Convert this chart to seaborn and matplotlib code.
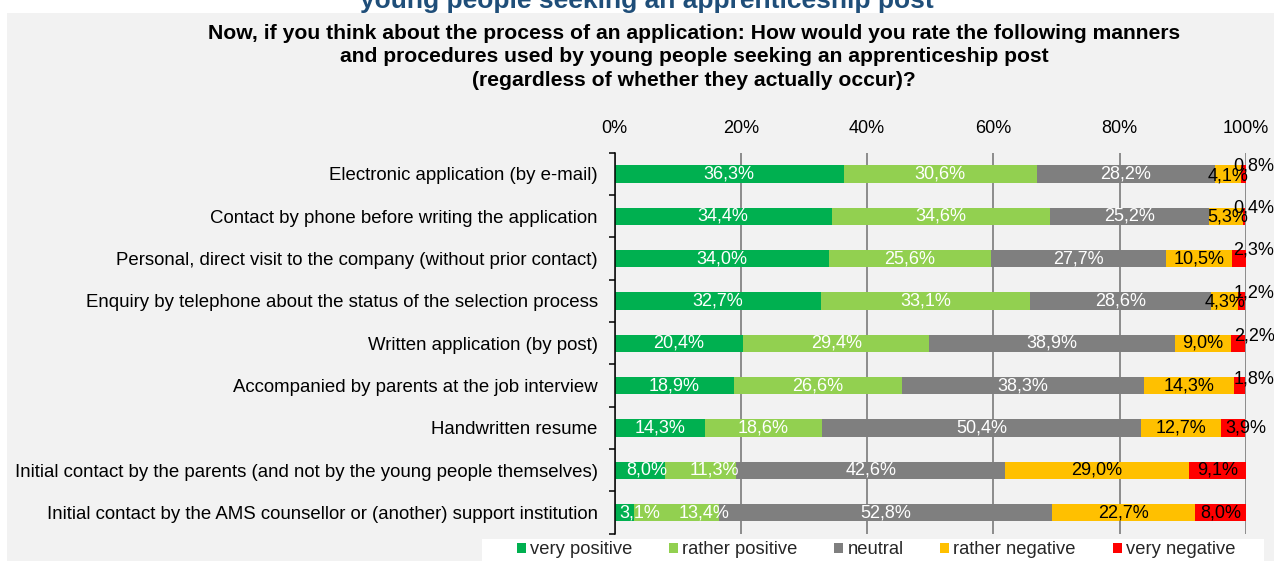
import numpy as np
import pandas as pd
import matplotlib
matplotlib.use("Agg")
import matplotlib.pyplot as plt
from matplotlib.patches import Rectangle, Patch
import seaborn as sns

# ---- data -------------------------------------------------------------
categories = [
    "Electronic application (by e-mail)",
    "Contact by phone before writing the application",
    "Personal, direct visit to the company (without prior contact)",
    "Enquiry by telephone about the status of the selection process",
    "Written application (by post)",
    "Accompanied by parents at the job interview",
    "Handwritten resume",
    "Initial contact by the parents (and not by the young people themselves)",
    "Initial contact by the AMS counsellor or (another) support institution",
]
series_names = ["very positive", "rather positive", "neutral",
                "rather negative", "very negative"]
very_positive = [36.3, 34.4, 34.0, 32.7, 20.4, 18.9, 14.3, 8.0, 3.1]
rather_positive = [30.6, 34.6, 25.6, 33.1, 29.4, 26.6, 18.6, 11.3, 13.4]
neutral = [28.2, 25.2, 27.7, 28.6, 38.9, 38.3, 50.4, 42.6, 52.8]
rather_negative = [4.1, 5.3, 10.5, 4.3, 9.0, 14.3, 12.7, 29.0, 22.7]
very_negative = [0.8, 0.4, 2.3, 1.2, 2.2, 1.8, 3.9, 9.1, 8.0]
x_ticks = [0, 20, 40, 60, 80, 100]
x_tick_labels = ["0%", "20%", "40%", "60%", "80%", "100%"]

super_title = "young people seeking an apprenticeship post"
title = ("Now, if you think about the process of an application: How would you rate the following manners\n"
         "and procedures used by young people seeking an apprenticeship post\n"
         "(regardless of whether they actually occur)?")

# ---- styling ----------------------------------------------------------
colors = ["#00B050", "#92D050", "#7F7F7F", "#FFC000", "#FF0000"]
label_colors = ["white", "white", "white", "black", "black"]
# (row, series) -> (dx in percent points, dy in category units)
label_nudge = {
    (0, 4): (1.7, -0.19), (1, 4): (1.6, -0.19), (2, 4): (2.3, -0.19),
    (3, 4): (2.0, -0.19), (4, 4): (2.5, -0.17), (5, 4): (2.3, -0.15),
    (6, 4): (2.05, 0.0),
    (0, 3): (0.0, 0.05), (1, 3): (0.2, 0.03), (3, 3): (0.2, 0.03),
    (7, 0): (1.1, 0.0), (7, 1): (2.2, 0.0),
    (8, 0): (2.5, 0.0), (8, 1): (4.4, 0.0),
}

sns.set_theme(style="white")
plt.rcParams["font.family"] = ["Liberation Sans", "DejaVu Sans"]

W, H = 1274, 561
fig = plt.figure(figsize=(W / 100, H / 100), dpi=100, facecolor="white")

# light grey chart area
fig.add_artist(Rectangle((7 / W, 0), 1 - 7 / W, 1 - 13 / H,
                         transform=fig.transFigure, facecolor="#F2F2F2",
                         edgecolor="none", zorder=0))
# white legend strip
fig.add_artist(Rectangle((482 / W, 0), (1264 - 482) / W, (H - 539) / H,
                         transform=fig.transFigure, facecolor="white",
                         edgecolor="none", zorder=0.5))

ax = fig.add_axes([614.5 / W, 1 - 533.7 / H, 631.5 / W, 381 / H])
ax.set_facecolor("none")

values = np.array([very_positive, rather_positive, neutral,
                   rather_negative, very_negative])
cum = np.cumsum(values, axis=0)
df = pd.DataFrame({"category": categories})
for k, name in enumerate(series_names):
    df[name] = cum[k]

# stacked bars: draw cumulative totals, longest first
for k in range(len(series_names) - 1, -1, -1):
    sns.barplot(data=df, x=series_names[k], y="category", color=colors[k],
                saturation=1, width=0.41, linewidth=0, orient="h", ax=ax,
                zorder=2)

# value labels
for k in range(len(series_names)):
    starts = cum[k] - values[k]
    for i in range(len(categories)):
        v = values[k][i]
        dx, dy = label_nudge.get((i, k), (0.0, 0.0))
        xc = starts[i] + v / 2 + dx
        ax.text(xc, i + dy, f"{v:.1f}%".replace(".", ","),
                ha="center", va="center", fontsize=13, color=label_colors[k],
                zorder=5, clip_on=False)

ax.set_xlim(0, 100)
ax.set_ylim(len(categories) - 0.5, -0.5)
ax.set_xlabel("")
ax.set_ylabel("")

ax.xaxis.tick_top()
ax.set_xticks(x_ticks)
ax.set_xticklabels(x_tick_labels, fontsize=13, color="black")
ax.tick_params(axis="x", length=0, pad=11)
ax.grid(axis="x", color="#8C8C8C", linewidth=1.4)
ax.grid(axis="y", visible=False)
ax.set_axisbelow(True)

ax.set_yticks(range(len(categories)))
ax.set_yticklabels(categories, fontsize=13.4, color="black")
ax.set_yticks(np.arange(-0.5, len(categories)), minor=True)
ax.tick_params(axis="y", which="major", length=0, pad=12)
ax.tick_params(axis="y", which="minor", length=4.3, width=1.1,
               color="black", direction="out", left=True)

for side in ["top", "right", "bottom"]:
    ax.spines[side].set_visible(False)
ax.spines["left"].set_color("black")
ax.spines["left"].set_linewidth(1.1)
ax.spines["left"].set_zorder(6)

# titles
fig.text(646.5 / W, 1 - 8 / H, super_title, ha="center", va="baseline",
         fontsize=19, fontweight="bold", color="#1F4E79", zorder=3)
fig.text(694 / W, 1 - 86 / H, title, ha="center", va="baseline",
         multialignment="center", fontsize=15.2, fontweight="bold",
         color="black", linespacing=1.31, zorder=3)

# legend
handles = [Patch(facecolor=c, edgecolor="none") for c in colors]
fig.legend(handles, series_names, loc="center",
           bbox_to_anchor=(876 / W, 1 - 550 / H), ncol=5, frameon=False,
           fontsize=13.2, handlelength=0.5, handleheight=0.5,
           handletextpad=0.22, columnspacing=2.0, borderaxespad=0)

fig.savefig("out.png", dpi=100, facecolor="white")
